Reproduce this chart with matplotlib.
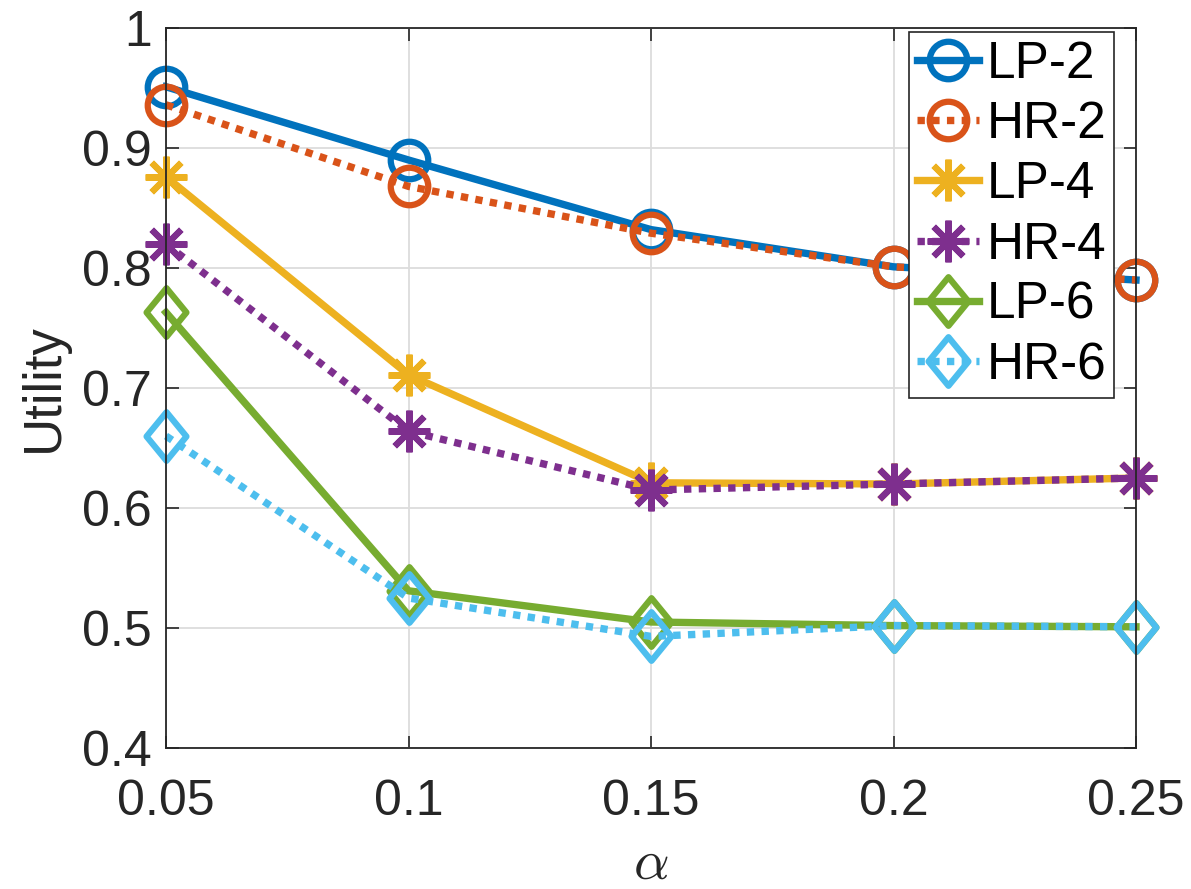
import matplotlib
matplotlib.use("Agg")
import matplotlib.pyplot as plt
from matplotlib.path import Path
import numpy as np

plt.rcParams['font.family'] = ['Liberation Sans', 'DejaVu Sans']
plt.rcParams['mathtext.fontset'] = 'cm'

alpha = [0.05, 0.1, 0.15, 0.2, 0.25]
series_names = ["LP-2", "HR-2", "LP-4", "HR-4", "LP-6", "HR-6"]
lp2 = [0.951, 0.890, 0.832, 0.801, 0.790]
hr2 = [0.936, 0.868, 0.829, 0.801, 0.790]
lp4 = [0.876, 0.711, 0.621, 0.620, 0.625]
hr4 = [0.820, 0.664, 0.615, 0.620, 0.625]
lp6 = [0.763, 0.531, 0.505, 0.502, 0.501]
hr6 = [0.660, 0.525, 0.493, 0.502, 0.501]
yticks = [0.4, 0.5, 0.6, 0.7, 0.8, 0.9, 1.0]
ytick_labels = ["0.4", "0.5", "0.6", "0.7", "0.8", "0.9", "1"]
xtick_labels = ["0.05", "0.1", "0.15", "0.2", "0.25"]

colors = ['#0072BD', '#D95319', '#EDB120', '#7E2F8E', '#77AC30', '#4DBEEE']

diamond = Path([(0, 1), (0.82, 0), (0, -1), (-0.82, 0), (0, 1)],
               [Path.MOVETO, Path.LINETO, Path.LINETO, Path.LINETO, Path.CLOSEPOLY])
asterisk = (8, 2, 0)

fig = plt.figure(figsize=(11.91, 8.89), dpi=100)
ax = fig.add_axes([166/1191, 1-748/889, (1136-166)/1191, (748-28)/889])

lw = 5.3
dotted = (0, (1, 1))
specs = [
    (lp2, 'o', '-', 27),
    (hr2, 'o', dotted, 27),
    (lp4, asterisk, '-', 30),
    (hr4, asterisk, dotted, 30),
    (lp6, diamond, '-', 35),
    (hr6, diamond, dotted, 35),
]
for (vals, mk, ls, ms), name, c in zip(specs, series_names, colors):
    ax.plot(alpha, vals, linestyle=ls, color=c, lw=lw, marker=mk, markersize=ms,
            markerfacecolor='none', markeredgecolor=c, markeredgewidth=4.5,
            dash_capstyle='butt', label=name, clip_on=False)

ax.set_xlim(0.05, 0.25)
ax.set_ylim(0.4, 1.0)
ax.set_xticks(alpha)
ax.set_xticklabels(xtick_labels)
ax.set_yticks(yticks)
ax.set_yticklabels(ytick_labels)
ax.grid(True, color='#dcdcdc', lw=1.3)
ax.set_axisbelow(True)
ax.tick_params(direction='in', length=9, width=1.2, top=True, right=True,
               labelsize=36, colors='#262626')
ax.tick_params(axis='x', pad=22)
ax.tick_params(axis='y', pad=10)
for s in ax.spines.values():
    s.set_color('#262626')
    s.set_linewidth(1.3)

ax.set_ylabel('Utility', fontsize=38, color='#262626', labelpad=10)
ax.set_xlabel(r'$\alpha$', fontsize=40, color='#262626', labelpad=10)

leg = ax.legend(loc='upper right', bbox_to_anchor=((1114-166)/970, (748-32)/720),
                borderaxespad=0, fontsize=37, handlelength=1.2, handletextpad=0.15,
                labelspacing=0.22, borderpad=0.15, fancybox=False, framealpha=1,
                edgecolor='#262626')
leg.get_frame().set_linewidth(1.2)

fig.savefig('out.png', dpi=100)
